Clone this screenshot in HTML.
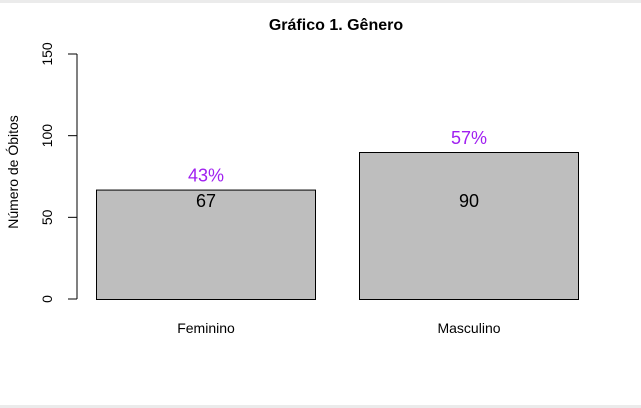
<!DOCTYPE html>
<html><head><meta charset="utf-8"><style>
html,body{margin:0;padding:0;background:#fff;}
svg{display:block;font-family:"Liberation Sans",Arial,sans-serif;}
</style></head><body>
<svg id="c" width="641" height="408" viewBox="0 0 641 408">
<rect x="0" y="0" width="641" height="3" fill="#ebebeb"/>
<rect x="0" y="405" width="641" height="3" fill="#ebebeb"/>
<text x="336" y="30" text-anchor="middle" font-weight="bold" font-size="16">Gráfico 1. Gênero</text>
<text transform="translate(18,172) rotate(-90)" text-anchor="middle" font-size="14">Número de Óbitos</text>
<g id="axis"></g>
<g id="bars"></g>
</svg>
<script>
const categories = ["Feminino", "Masculino"];
const values = [67, 90];
const percents = ["43%", "57%"];
const ticks = [0, 50, 100, 150];
const tickLabels = ["0", "50", "100", "150"];
const valueLabelLevel = 60;

const NS = "http://www.w3.org/2000/svg";
function y(v){ return 299 - v * (245/150); }
function bx(i){ return 96 + i * 263; }
const BW = 220;
function mk(tag, attrs, parent){
  const e = document.createElementNS(NS, tag);
  for (const k in attrs) e.setAttribute(k, attrs[k]);
  parent.appendChild(e); return e;
}
const axis = document.getElementById("axis");
const line = mk("line", {x1:77, x2:77, y1:y(ticks[0]), y2:y(ticks[ticks.length-1]), stroke:"#000"}, axis);


ticks.forEach((t, i) => {
  const tk = mk("line", {x1:68, x2:77, y1:y(t), y2:y(t), stroke:"#000"}, axis);
  
  
  const tl = mk("text", {transform:`translate(52,${y(t)}) rotate(-90)`, "text-anchor":"middle", "font-size":"14"}, axis);
  tl.textContent = tickLabels[i];
  
  
});
const bars = document.getElementById("bars");
categories.forEach((c, i) => {
  const v = values[i];
  const r = mk("rect", {x:bx(i)+0.5, y:y(v)+0.5, width:BW-1, height:y(0)-y(v), fill:"#bebebe", stroke:"#000"}, bars);
  
  
  const vl = mk("text", {x:bx(i)+BW/2, y:y(valueLabelLevel)+6, "text-anchor":"middle", "font-size":"18"}, bars);
  vl.textContent = v;
  
  
  const pl = mk("text", {x:bx(i)+BW/2, y:y(v)-8, "text-anchor":"middle", "font-size":"18", fill:"#a020f0"}, bars);
  pl.textContent = percents[i];
  
  
  const cl = mk("text", {x:bx(i)+BW/2, y:333, "text-anchor":"middle", "font-size":"14"}, bars);
  cl.textContent = c;
  
  
});
</script>
</body></html>
